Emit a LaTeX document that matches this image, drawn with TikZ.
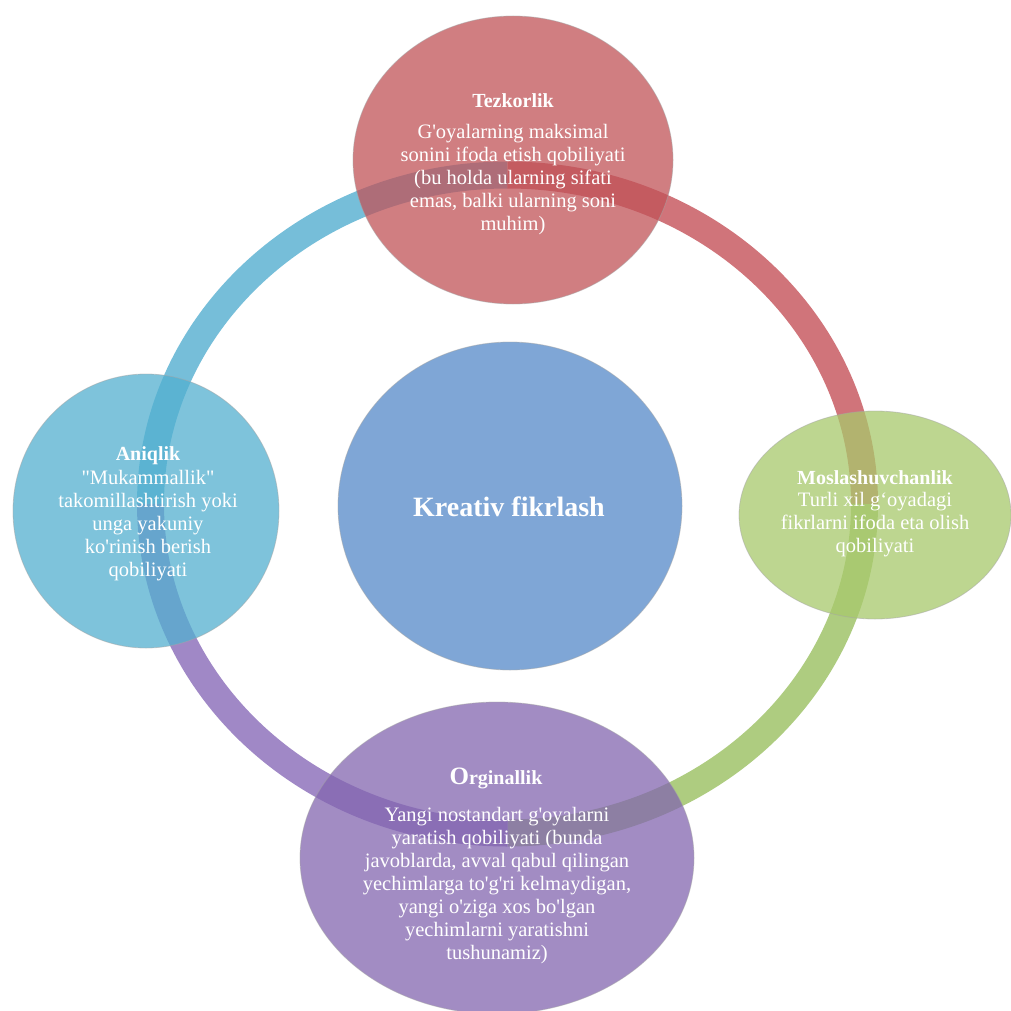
\documentclass[tikz,border=0pt]{standalone}
\usepackage{fontspec}
\setmainfont{Liberation Serif}[Ligatures=TeXOff]
\usetikzlibrary{shapes.geometric,calc}
\definecolor{bandblue}{RGB}{118,190,217}
\definecolor{bandred}{RGB}{208,116,122}
\definecolor{bandgreen}{RGB}{174,204,128}
\definecolor{bandpurple}{RGB}{160,136,198}
\definecolor{cred}{RGB}{193,83,88}
\definecolor{cgreen}{RGB}{168,201,108}
\definecolor{cpurple}{RGB}{131,102,176}
\definecolor{ccyan}{RGB}{83,176,208}
\definecolor{cblue}{RGB}{127,166,214}
\tikzset{
  band/.style={line width=27pt, line cap=butt},
  bubble/.style={ellipse, inner sep=0pt, fill opacity=0.75, draw=black!35, draw opacity=0.5, line width=0.8pt},
  txt/.style={text=white, align=center, font=\fontsize{20.5}{23}\selectfont, inner sep=0pt},
  ttl/.style={text=white, align=center, font=\fontsize{20}{23}\selectfont\bfseries, inner sep=0pt}
}
\begin{document}
\begin{tikzpicture}[x=1pt,y=-1pt]
\useasboundingbox (0,0) rectangle (1011,1011);
\fill[white] (0,0) rectangle (1011,1011);
\coordinate (ringc) at (507.5,504);
% ring segments
\draw[band, bandblue]   ($(ringc)+(-357,0)$) arc[start angle=180, end angle=270, x radius=357, y radius=329];
\draw[band, bandred]    ($(ringc)+(0,-329)$) arc[start angle=270, end angle=360, x radius=357, y radius=329];
\draw[band, bandgreen]  ($(ringc)+(357,0)$) arc[start angle=0, end angle=90, x radius=357, y radius=329];
\draw[band, bandpurple] ($(ringc)+(0,329)$) arc[start angle=90, end angle=180, x radius=357, y radius=329];
% circles
\node[bubble, fill=cred, minimum width=320pt, minimum height=288pt] (tez) at (513,160) {};
\node[bubble, fill=cgreen, minimum width=272pt, minimum height=208pt] (mos) at (875,515) {};
\node[bubble, fill=cpurple, minimum width=394pt, minimum height=312pt] (org) at (497,858) {};
\node[bubble, fill=ccyan, minimum width=266pt, minimum height=274pt] (ani) at (146,511) {};
\node[bubble, fill=cblue, fill opacity=1, minimum width=344pt, minimum height=328pt] (kre) at (510,506) {};
% texts
\node[ttl] (tezt) at (513,101) {Tezkorlik};
\node[txt, anchor=north] (tezb) at (513,124) {G'oyalarning maksimal\\sonini ifoda etish qobiliyati\\(bu holda ularning sifati\\emas, balki ularning soni\\muhim)};
\node[ttl] (most) at (875,478) {Moslashuvchanlik};
\node[txt, anchor=north] (mosb) at (875,492) {Turli xil g‘oyadagi\\fikrlarni ifoda eta olish\\qobiliyati};
\node[ttl] (anit) at (148,456) {Aniqlik};
\node[txt, anchor=north] (anib) at (148,470) {"Mukammallik"\\takomillashtirish yoki\\unga yakuniy\\ko'rinish berish\\qobiliyati};
\node[text=white, inner sep=0pt, font=\bfseries] (orgt) at (496,778) {{\fontsize{25}{28}\selectfont O}{\fontsize{20}{23}\selectfont rginallik}};
\node[txt, anchor=north] (orgb) at (497,807) {Yangi nostandart g'oyalarni\\yaratish qobiliyati (bunda\\javoblarda, avval qabul qilingan\\yechimlarga to'g'ri kelmaydigan,\\yangi o'ziga xos bo'lgan\\yechimlarni yaratishni\\tushunamiz)};
\node[text=white, inner sep=0pt, font=\fontsize{28}{30}\selectfont\bfseries] (kret) at (509,507) {Kreativ fikrlash};
\end{tikzpicture}
\end{document}
